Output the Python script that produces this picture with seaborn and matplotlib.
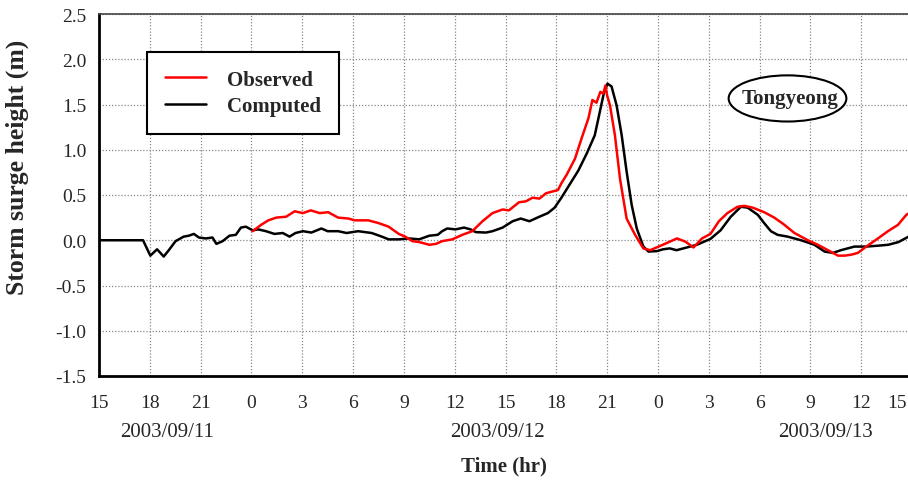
import numpy as np
import pandas as pd
import matplotlib
matplotlib.use("Agg")
import matplotlib.pyplot as plt
from matplotlib.patches import Ellipse
from matplotlib.lines import Line2D
import seaborn as sns

# ---------------- data ----------------
# time in hours since 2003/09/11 15:00
comp_t = [0, 2.6, 3.03, 3.43, 3.82, 4.12, 4.52, 5.0, 5.3, 5.6, 5.9, 6.3, 6.7, 6.93, 7.3, 7.7,
          8.08, 8.38, 8.67, 9.07, 9.4, 9.86, 10.36, 10.85, 11.25, 11.6, 12.04, 12.54, 13.13, 13.5,
          14.12, 14.62, 15.3, 16.1, 16.7, 17.1, 17.7, 18.3, 18.9, 19.5, 20.0, 20.26, 20.56, 21.05,
          21.55, 21.94, 22.24, 22.84, 23.23, 23.83, 24.42, 24.9, 25.41, 26.0, 26.5, 26.9, 27.3,
          27.8, 28.3, 28.8, 29.27, 29.57, 29.8, 30.02, 30.26, 30.56, 30.86, 31.15, 31.45, 31.75,
          32.14, 32.44, 32.94, 33.3, 33.7, 34.1, 34.7, 35.3, 36.1, 36.7, 37.3, 37.9, 38.3, 38.9,
          39.27, 39.67, 40.06, 40.66, 41.45, 42.24, 42.84, 43.33, 43.8, 44.6, 45.3, 46.0, 46.6,
          47.2, 47.8, 48.0]
comp_v = [0.0, 0.0, -0.17, -0.10, -0.18, -0.11, -0.01, 0.04, 0.05, 0.07, 0.03, 0.02, 0.03, -0.04, -0.01, 0.05,
          0.06, 0.14, 0.15, 0.11, 0.12, 0.10, 0.07, 0.08, 0.04, 0.08, 0.10, 0.085, 0.13, 0.10,
          0.10, 0.08, 0.10, 0.08, 0.04, 0.01, 0.01, 0.02, 0.01, 0.05, 0.06, 0.10, 0.13, 0.12,
          0.14, 0.12, 0.09, 0.085, 0.10, 0.14, 0.21, 0.24, 0.21, 0.26, 0.30, 0.36, 0.47,
          0.62, 0.77, 0.96, 1.16, 1.42, 1.62, 1.73, 1.70, 1.49, 1.16, 0.76, 0.39, 0.13,
          -0.07, -0.125, -0.12, -0.10, -0.09, -0.11, -0.08, -0.05, 0.015, 0.11, 0.26, 0.37, 0.36, 0.28,
          0.19, 0.10, 0.06, 0.04, 0.00, -0.05, -0.125, -0.14, -0.11, -0.07, -0.07, -0.06, -0.05,
          -0.02, 0.04, 0.07]

obs_t = [9.07, 9.57, 10.0, 10.46, 11.05, 11.55, 12.04, 12.5, 13.03, 13.53, 14.12, 14.72, 15.1,
         15.9, 16.5, 17.1, 17.7, 18.08, 18.5, 18.9, 19.5, 19.9, 20.26, 20.86, 21.45, 22.04, 22.64,
         23.23, 23.83, 24.2, 24.8, 25.2, 25.6, 26.0, 26.4, 26.6, 27.1, 27.3, 27.6, 28.1, 28.5,
         28.9, 29.13, 29.37, 29.6, 29.77, 29.9, 30.0, 30.17, 30.46, 30.76, 31.15, 31.65, 32.14,
         32.54, 33.04, 33.53, 34.12, 34.62, 35.1, 35.6, 36.1, 36.6, 37.1, 37.7, 38.1, 38.6,
         39.27, 39.87, 40.4, 41.06, 41.85, 42.44, 43.04, 43.63, 44.03, 44.4, 44.8, 45.3, 45.99,
         46.58, 47.17, 47.66, 48.0]
obs_v = [0.10, 0.17, 0.22, 0.25, 0.26, 0.32, 0.30, 0.33, 0.30, 0.31, 0.25, 0.24, 0.22,
         0.22, 0.19, 0.15, 0.07, 0.04, -0.01, -0.02, -0.05, -0.04, -0.01, 0.01, 0.06, 0.10, 0.21,
         0.30, 0.34, 0.33, 0.42, 0.43, 0.47, 0.46, 0.52, 0.53, 0.555, 0.63, 0.72, 0.90, 1.13,
         1.35, 1.55, 1.52, 1.64, 1.62, 1.71, 1.60, 1.49, 1.16, 0.68, 0.24, 0.06, -0.09,
         -0.11, -0.07, -0.03, 0.02, -0.015, -0.08, 0.02, 0.07, 0.21, 0.30, 0.37, 0.38, 0.36,
         0.31, 0.25, 0.18, 0.08, 0.00, -0.05, -0.11, -0.17, -0.17, -0.16, -0.14, -0.07, 0.02,
         0.10, 0.17, 0.28, 0.32]

xtick_pos = list(range(0, 49, 3))
xtick_labels = ["15", "18", "21", "0", "3", "6", "9", "12", "15", "18", "21",
                "0", "3", "6", "9", "12", "15"]
ytick_pos = [-1.5, -1.0, -0.5, 0.0, 0.5, 1.0, 1.5, 2.0, 2.5]
ytick_labels = ["-1.5", "-1.0", "-0.5", "0.0", "0.5", "1.0", "1.5", "2.0", "2.5"]
date_labels = ["2003/09/11", "2003/09/12", "2003/09/13"]
date_pos = [4.0, 23.5, 42.9]
station = "Tongyeong"

# ---------------- plot ----------------
sns.set_style("white")
plt.rcParams["font.family"] = ["Liberation Serif", "DejaVu Serif"]

W, H = 908, 481
fig = plt.figure(figsize=(W / 100, H / 100), dpi=100)
ax_l, ax_r, ax_t, ax_b = 99, 912, 15, 377
ax = fig.add_axes([ax_l / W, 1 - ax_b / H, (ax_r - ax_l) / W, (ax_b - ax_t) / H])

df_c = pd.DataFrame({"t": comp_t, "v": comp_v})
df_o = pd.DataFrame({"t": obs_t, "v": obs_v})
sns.lineplot(data=df_c, x="t", y="v", ax=ax, color="black", lw=1.8,
             estimator=None, sort=False)
sns.lineplot(data=df_o, x="t", y="v", ax=ax, color="#ff0000", lw=1.8,
             estimator=None, sort=False)

ax.set_xlim(0, 48)
ax.set_ylim(-1.5, 2.5)
ax.set_xticks(xtick_pos)
# the last tick label falls on the figure edge: draw it separately, nudged inside
ax.set_xticklabels(xtick_labels[:-1] + [""], fontsize=14)
ax.set_yticks(ytick_pos)
ax.set_yticklabels(ytick_labels, fontsize=14)
ax.tick_params(axis="x", length=0, pad=13)
ax.tick_params(axis="y", length=0, pad=9)
ax.grid(True, color="#888888", linestyle=(0, (1, 1.5)), linewidth=0.9)

fig.canvas.draw()
ref_lab = ax.get_xticklabels()[0]
y_lab_px = ref_lab.get_window_extent().y1
fig.text(907 / W, y_lab_px / H, xtick_labels[-1], ha="right", va="top", fontsize=14)

for s in ["left", "bottom"]:
    ax.spines[s].set_linewidth(2.0)
    ax.spines[s].set_color("black")
ax.spines["top"].set_linewidth(1.2)
ax.spines["top"].set_color("#444444")
ax.spines["right"].set_visible(False)

ax.set_xlabel("")
ax.set_ylabel("Storm surge height (m)", fontsize=18.5, fontweight="bold")
ax.yaxis.set_label_coords((29 - ax_l) / (ax_r - ax_l), (ax_b - 167.5) / (ax_b - ax_t))
fig.text(0.5 * (ax_l + 908) / W, 1 - 466 / H, "Time (hr)", ha="center", va="center",
         fontsize=15, fontweight="bold")

for lab, p in zip(date_labels, date_pos):
    ax.text(p, -(433 - ax_b) / (ax_b - ax_t), lab, transform=ax.get_xaxis_transform(),
            ha="center", va="center", fontsize=15)

handles = [Line2D([], [], color="#ff0000", lw=1.8), Line2D([], [], color="black", lw=1.8)]
leg = ax.legend(handles, ["Observed", "Computed"], loc="upper left",
                bbox_to_anchor=((147 - ax_l) / (ax_r - ax_l), (ax_b - 53) / (ax_b - ax_t)),
                borderaxespad=0, frameon=True, fancybox=False,
                prop={"size": 15, "weight": "bold"}, handlelength=2.0,
                borderpad=0.85, labelspacing=0.3, handletextpad=1.0)
leg.get_frame().set_edgecolor("black")
leg.get_frame().set_linewidth(1.5)
leg.get_frame().set_alpha(1)

ell = Ellipse((40.65, 1.567), 6.95, 0.51, facecolor="white", edgecolor="black", lw=1.5, zorder=5)
ax.add_patch(ell)
ax.text(40.8, 1.575, station, ha="center", va="center", fontsize=15, fontweight="bold", zorder=6)

fig.savefig("out.png", dpi=100)
